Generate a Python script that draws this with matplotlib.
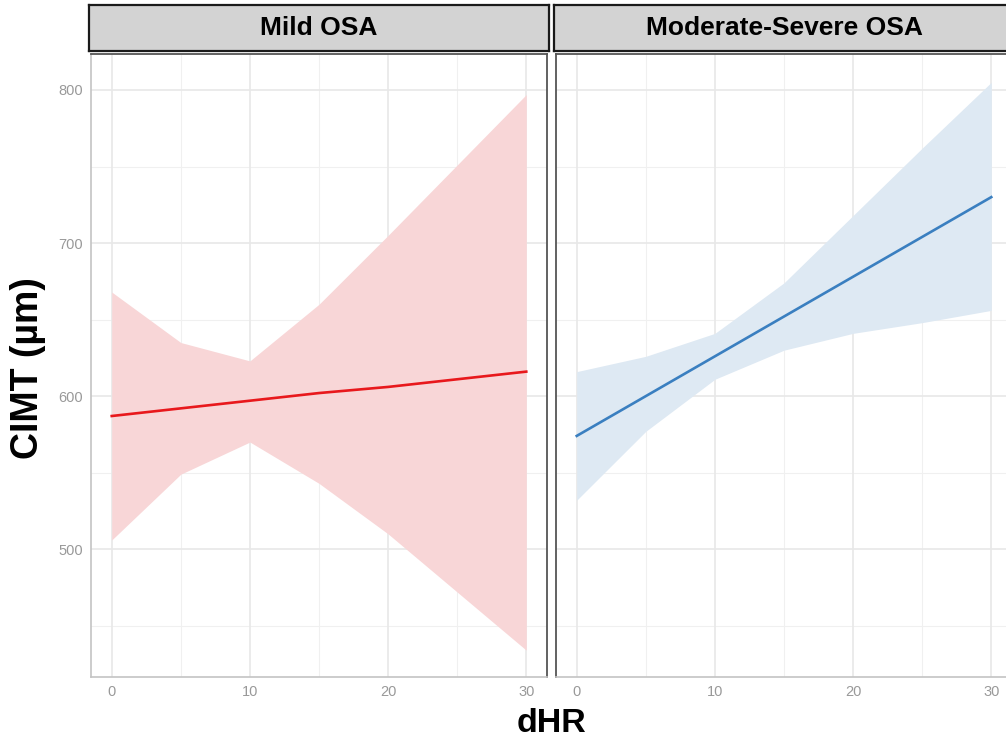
import matplotlib.pyplot as plt

plt.rcParams['font.family'] = ['Liberation Sans', 'DejaVu Sans']

# data
dhr = [0, 5, 10, 15, 20, 25, 30]
panels = ["Mild OSA", "Moderate-Severe OSA"]
mild_fit = [587, 592, 597, 602, 606, 611, 616]
mild_upper = [668, 635, 623, 660, 705, 751, 797]
mild_lower = [506, 549, 570, 543, 510, 472, 434]
sev_fit = [574, 600, 626, 652, 678, 704, 730]
sev_upper = [616, 626, 641, 674, 718, 762, 805]
sev_lower = [532, 577, 611, 630, 641, 648, 656]
y_ticks = [500, 600, 700, 800]
y_minor = [450, 550, 650, 750]
x_ticks = [0, 10, 20, 30]
x_minor = [5, 15, 25]

colors = ["#e8181c", "#3a7fc0"]
fills = ["#f8d6d7", "#dee9f3"]

W, H = 1006, 747
fig = plt.figure(figsize=(W / 100, H / 100), dpi=100)

def px(x0, y0, w, h):
    return [x0 / W, 1 - (y0 + h) / H, w / W, h / H]

series = [(mild_fit, mild_upper, mild_lower), (sev_fit, sev_upper, sev_lower)]
lefts = [91, 556]
for i, (fit, up, lo) in enumerate(series):
    ax = fig.add_axes(px(lefts[i], 54, 456, 623))
    for v in y_minor:
        ax.axhline(v, color="#f0f0f0", lw=0.8, zorder=0)
    for v in x_minor:
        ax.axvline(v, color="#f0f0f0", lw=0.8, zorder=0)
    for v in y_ticks:
        ax.axhline(v, color="#e8e8e8", lw=1.2, zorder=0)
    for v in x_ticks:
        ax.axvline(v, color="#e8e8e8", lw=1.2, zorder=0)
    ax.fill_between(dhr, lo, up, color=fills[i], lw=0, zorder=1)
    ax.plot(dhr, fit, color=colors[i], lw=1.9, zorder=2)
    ax.set_xlim(-1.5, 31.5)
    ax.set_ylim(416.5, 823.5)
    ax.set_xticks(x_ticks)
    ax.set_yticks(y_ticks)
    ax.tick_params(length=0, colors="#999999", labelsize=10.5, pad=6)
    if i == 1:
        ax.set_yticklabels([])
    for s in ["top", "right"]:
        ax.spines[s].set_color("#555555")
        ax.spines[s].set_linewidth(1.3)
    for s in ["left", "bottom"]:
        ax.spines[s].set_color("#c4c4c4")
        ax.spines[s].set_linewidth(1.2)
    if i == 1:
        ax.spines["left"].set_color("#555555")
        ax.spines["left"].set_linewidth(1.3)

    # facet strip
    sx = fig.add_axes(px(lefts[i] - 2, 5, 460, 46))
    sx.set_xticks([])
    sx.set_yticks([])
    sx.set_facecolor("#d3d3d3")
    for s in sx.spines.values():
        s.set_color("#1a1a1a")
        s.set_linewidth(1.6)
    sx.text(0.5, 0.5, panels[i], ha="center", va="center", fontsize=19,
            fontweight="bold", transform=sx.transAxes)

fig.text(551 / W, 1 - 724 / H, "dHR", ha="center", va="center",
         fontsize=24.5, fontweight="bold")
fig.text(28 / W, 1 - 368 / H, "CIMT (µm)", ha="center", va="center",
         rotation=90, fontsize=27, fontweight="bold")

fig.savefig("out.png", dpi=100)
